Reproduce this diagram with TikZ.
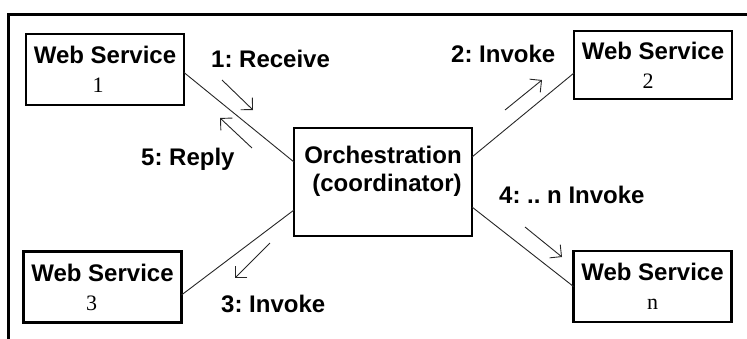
\documentclass[tikz,border=0pt]{standalone}
\usepackage{fontspec}
\setmainfont{Liberation Sans}
\newfontfamily\numfont{Liberation Serif}
\usetikzlibrary{arrows.meta}
\frenchspacing
\begin{document}
\begin{tikzpicture}[x=1pt,y=-1pt,
  wsbox/.style={draw, line width=2.6pt, minimum width=158pt, minimum height=71pt,
    inner sep=0pt, outer sep=0pt, align=center,
    font=\bfseries\fontsize{24}{29}\selectfont},
  lbl/.style={anchor=base west, inner sep=0pt, font=\bfseries\fontsize{24}{29}\selectfont},
  conn/.style={line width=0.9pt, black!85},
  flow/.style={line width=0.9pt, black!85, -{Straight Barb[angle=90:12pt]}}]
\useasboundingbox (0,0) rectangle (747,338);
\begin{scope}
  \clip (0,0) rectangle (747,338);
  \draw[line width=3pt] (8.5,14.5) rectangle (790,380);
\end{scope}

\newcommand{\wsnum}[2]{{\numfont\mdseries\fontsize{22}{29}\selectfont\hspace*{#1}#2}}

\node[wsbox] (ws1) at (105,69.5) {Web Service\\\wsnum{-14pt}{1}};
\node[wsbox, minimum height=68pt] (ws2) at (653,65) {Web Service\\\wsnum{-10pt}{2}};
\node[wsbox] (ws3) at (102.5,287) {Web Service\\\wsnum{-22pt}{3}};
\node[wsbox] (wsn) at (652.5,286.5) {Web Service\\\wsnum{0pt}{n}};
\node[wsbox, minimum width=178pt, minimum height=108pt,
  font=\bfseries\fontsize{24}{28}\selectfont] (orch) at (383,182) {Orchestration\\\hspace*{8pt}(coordinator)\\[-10pt]\strut};

\draw[conn] ([yshift=-3pt]ws1.east) -- ([yshift=20pt]orch.west);
\draw[conn] ([yshift=25pt]orch.east) -- ([yshift=-8pt]ws2.west);
\draw[conn] ([yshift=-28pt]orch.west) -- ([yshift=-8pt]ws3.east);
\draw[conn] ([yshift=-25pt]orch.east) -- (wsn.west);

\coordinate (a1s) at (222,80);  \coordinate (a1e) at (253,110);
\coordinate (a5s) at (252,148); \coordinate (a5e) at (220,118);
\coordinate (a2s) at (505,110); \coordinate (a2e) at (542,80);
\coordinate (a3s) at (270,243); \coordinate (a3e) at (235,278);
\coordinate (a4s) at (525,227); \coordinate (a4e) at (562,257);
\draw[flow] (a1s) -- (a1e);
\draw[flow] (a5s) -- (a5e);
\draw[flow] (a2s) -- (a2e);
\draw[flow] (a3s) -- (a3e);
\draw[flow] (a4s) -- (a4e);

\node[lbl] (l1) at (211,67) {1: Receive};
\node[lbl] (l2) at (451,62) {2: Invoke};
\node[lbl] (l5) at (141,165) {5: Reply};
\node[lbl] (l4) at (499,203) {4: .. n Invoke};
\node[lbl] (l3) at (221,312) {3: Invoke};
\end{tikzpicture}
\end{document}
